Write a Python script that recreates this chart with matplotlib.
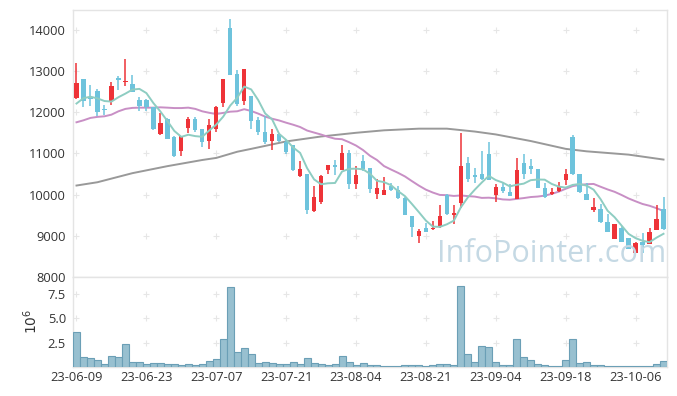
import matplotlib
matplotlib.use("Agg")
import matplotlib.pyplot as plt
import numpy as np
import pandas as pd

# ---------------- data ----------------
holidays = ["2023-08-15", "2023-09-28", "2023-09-29", "2023-10-02", "2023-10-03", "2023-10-09"]
dates = [d for d in pd.bdate_range("2023-06-09", "2023-10-13") if d.strftime("%Y-%m-%d") not in holidays]

opens = [12340, 12810, 12350, 12520, 12070, 12260, 12830, 12740, 12690, 12300,
         12300, 12120, 11475, 11840, 11400, 11050, 11620, 11840, 11590, 11290,
         11590, 12235, 14055, 12930, 12280, 12400, 11800, 11510, 11290, 11470,
         11270, 11210, 10440, 10505, 9590, 9830, 10585, 10720, 10600, 11020,
         10265, 10810, 10650, 10005, 9990, 10220, 10110, 9925, 9480, 8995,
         9195, 9155, 9235, 9990, 9505, 9785, 10755, 10465, 10510, 10995,
         9985, 10190, 10060, 9900, 10755, 10690, 10610, 10165, 10005, 10085,
         10350, 11395, 10490, 10005, 9625, 9640, 9340, 8930, 9180, 8940,
         8590, 8850, 8810, 9140, 9640]
highs = [13200, 12815, 12670, 12570, 12180, 12730, 12880, 13290, 12910, 12360,
         12330, 12130, 11980, 11850, 11410, 11420, 11880, 11890, 11600, 11830,
         12150, 12815, 14265, 13030, 13060, 12400, 11880, 11910, 11590, 11490,
         11320, 11215, 10805, 10510, 10200, 10470, 10730, 10845, 11210, 11090,
         10700, 10970, 10655, 10385, 10430, 10270, 10220, 9930, 9480, 9170,
         9315, 9360, 9740, 10005, 9740, 11500, 10915, 10650, 11070, 11270,
         10245, 10270, 10245, 10890, 10995, 10870, 10620, 10285, 10165, 10310,
         10625, 11455, 10490, 10270, 9925, 9760, 9520, 9280, 9235, 8940,
         8850, 9075, 9195, 9740, 9940]
lows = [12320, 12130, 12150, 11900, 11940, 12180, 12550, 12640, 12490, 12040,
        12040, 11570, 11440, 11340, 10920, 10945, 11500, 11530, 11150, 11100,
        11510, 12125, 12900, 12140, 12180, 11590, 11440, 11230, 11090, 11270,
        10990, 10570, 10430, 9525, 9580, 9780, 10510, 10480, 10590, 10135,
        10140, 10570, 10045, 9900, 9985, 10085, 9905, 9500, 8970, 8835,
        9080, 9150, 9195, 9510, 9280, 9680, 10300, 10285, 10365, 10350,
        9825, 10045, 9960, 9885, 10390, 10510, 10150, 9925, 9990, 10070,
        10230, 10480, 10045, 9860, 9585, 9320, 9080, 8915, 8840, 8670,
        8575, 8590, 8795, 9135, 9150]
closes = [12710, 12260, 12320, 12015, 12050, 12640, 12790, 12760, 12500, 12140,
          12130, 11580, 11740, 11345, 10930, 11410, 11840, 11570, 11265, 11700,
          12120, 12810, 12910, 12210, 13055, 11775, 11525, 11280, 11480, 11310,
          11045, 10600, 10625, 9630, 9945, 10455, 10720, 10660, 11020, 10265,
          10485, 10630, 10125, 10165, 10110, 10110, 9925, 9505, 9210, 9115,
          9090, 9190, 9480, 9520, 9560, 10705, 10390, 10425, 10390, 10365,
          10190, 10085, 9965, 10585, 10505, 10610, 10165, 9945, 10070, 10180,
          10490, 10490, 10060, 9865, 9690, 9335, 9090, 9275, 8850, 8685,
          8815, 8775, 9100, 9400, 9155]
volumes = [3.54, 0.99, 0.88, 0.68, 0.27, 1.09, 0.99, 2.31, 0.48, 0.48,
           0.27, 0.37, 0.37, 0.27, 0.27, 0.17, 0.27, 0.17, 0.27, 0.58,
           0.78, 2.82, 8.13, 1.50, 1.90, 1.29, 0.37, 0.48, 0.37, 0.27,
           0.27, 0.48, 0.27, 0.88, 0.37, 0.27, 0.17, 0.27, 1.12, 0.48,
           0.17, 0.37, 0.17, 0.17, 0.08, 0.08, 0.08, 0.17, 0.17, 0.17,
           0.08, 0.17, 0.27, 0.27, 0.17, 8.27, 1.29, 0.48, 2.11, 2.00,
           0.48, 0.17, 0.17, 2.82, 0.99, 0.68, 0.27, 0.17, 0.08, 0.08,
           0.68, 2.82, 0.37, 0.48, 0.17, 0.17, 0.08, 0.08, 0.08, 0.08,
           0.08, 0.08, 0.08, 0.27, 0.58]

# moving averages: values read from the chart where history is not visible
ma5_head = [12210, 12340, 12375, 12335]
ma20_head = [11755, 11803, 11861, 11886, 11900, 11940, 12021, 12080, 12104, 12110,
             12110, 12110, 12118, 12110, 12100, 12100, 12110, 12080, 12021]
ma60_idx = [0, 3, 8, 13, 18, 20, 23, 25, 30, 35, 40, 44, 49, 53, 57, 60, 65, 70, 73, 79, 84]
ma60_val = [10220, 10300, 10520, 10690, 10840, 10890, 11040, 11110, 11290, 11410,
            11500, 11560, 11600, 11600, 11530, 11460, 11300, 11110, 11050, 10970, 10850]

# ---------------- derived ----------------
n = len(closes)
x = np.arange(n)
cl = pd.Series(closes, dtype=float)
ma5 = cl.rolling(5).mean().values
ma5[:4] = ma5_head
ma20 = cl.rolling(20).mean().values
ma20[:19] = ma20_head

UP = "#ee3338"
DOWN = "#6ec3dc"

plt.rcParams["font.family"] = ["Open Sans", "DejaVu Sans"]

fig = plt.figure(figsize=(6.77, 3.96), dpi=100)
W, H = 677, 396
L, R = 73, 667
ax1 = fig.add_axes([L / W, 1 - 277 / H, (R - L) / W, (277 - 10) / H])
ax2 = fig.add_axes([L / W, 1 - 367 / H, (R - L) / W, (367 - 277) / H], sharex=ax1)

# candles
o = np.array(opens, float); c = np.array(closes, float)
h = np.array(highs, float); l = np.array(lows, float)
up = c >= o
cols = np.where(up, UP, DOWN)
ax1.vlines(x, l, h, colors=cols, linewidth=1.1, zorder=3)
body_lo = np.minimum(o, c)
body_h = np.maximum(np.abs(c - o), 28)
ax1.bar(x, body_h, bottom=body_lo, width=0.62, color=cols, linewidth=0, zorder=4)

# moving averages
ax1.plot(ma60_idx, ma60_val, color="#999999", linewidth=1.4, zorder=2)
ax1.plot(x, ma20, color="#c88fc5", linewidth=1.4, zorder=2)
ax1.plot(x, ma5, color="#8ecdc2", linewidth=1.4, zorder=5)

# volume
ax2.bar(x, volumes, width=1.0, color="#98c0d0", edgecolor="#6b9fb6", linewidth=0.8, zorder=3)

# axes styling
xt = list(range(0, n, 10))
for ax in (ax1, ax2):
    for s in ax.spines.values():
        s.set_color("#e4e4e4")
        s.set_linewidth(1.0)
    ax.tick_params(length=0, colors="#333333", labelsize=9.3)
ax1.set_xlim(-0.5, n - 0.5)
ax1.set_ylim(8000, 14480)
yt1 = [8000, 9000, 10000, 11000, 12000, 13000, 14000]
ax1.set_yticks(yt1)
ax1.set_yticklabels([str(v) for v in yt1])
ax1.tick_params(axis="y", pad=5)
ax1.tick_params(axis="x", labelbottom=False)

ax2.set_ylim(0, 9.2)
yt2 = [2.5, 5.0, 7.5]
ax2.set_yticks(yt2)
ax2.set_yticklabels(["2.5", "5.0", "7.5"])
ax2.tick_params(axis="y", pad=5)
ax2.set_xticks(xt)
ax2.set_xticklabels([dates[i].strftime("%y-%m-%d") for i in xt])
ax2.tick_params(axis="x", pad=3)

# grid crosses
gx, gy = np.meshgrid(xt, yt1[1:])
ax1.plot(gx.ravel(), gy.ravel(), linestyle="none", marker="+", markersize=4.5,
         markeredgewidth=0.8, color="#e6e6e6", zorder=1)
gx2, gy2 = np.meshgrid(xt, yt2)
ax2.plot(gx2.ravel(), gy2.ravel(), linestyle="none", marker="+", markersize=4.5,
         markeredgewidth=0.8, color="#e6e6e6", zorder=1)

# watermark
ax1.text(0.805, 0.085, "InfoPointer.com", transform=ax1.transAxes, ha="center", va="center",
         fontsize=22, color="#c5d9e4", zorder=6)

fig.text(32 / W, 1 - 321 / H, r"$10^{6}$", rotation=90, ha="center", va="center",
         fontsize=10, color="#333333")

fig.savefig("out.png", dpi=100, facecolor="white")
